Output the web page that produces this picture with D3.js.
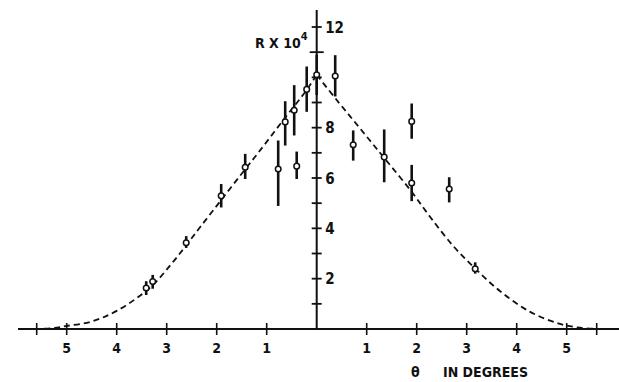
<!DOCTYPE html>
<html>
<head>
<meta charset="utf-8">
<script src="https://cdn.jsdelivr.net/npm/d3@7"></script>
<style>
  body { margin: 0; background: #fff; }
  text { font-family: "Liberation Sans Narrow", "DejaVu Sans Condensed", sans-serif; font-weight: bold; fill: #111; }
</style>
</head>
<body>
<div class="canvas"></div>
<script>
// dashed fit curve (theta in degrees, R x 10^4)
const curveTheta = [-5.65, -5.3, -5.0, -4.5, -4.0, -3.33, -2.9, -2.6, -2.33, -1.9, -1.43, -1.17, -0.63, -0.2, 0,
                    0.4, 0.73, 1.04, 1.37, 1.9, 2.27, 2.73, 3.17, 3.67, 4.27, 4.87, 5.27, 5.65];
const curveR = [0, 0.03, 0.12, 0.3, 0.72, 1.65, 2.6, 3.35, 4.05, 5.15, 6.35, 7.0, 8.4, 9.5, 10.1,
                9.1, 8.3, 7.55, 6.75, 5.45, 4.45, 3.3, 2.4, 1.5, 0.68, 0.2, 0.05, 0];

// measured points with error bars
const ptTheta = [-3.41, -3.28, -2.61, -1.91, -1.43, -0.77, -0.63, -0.45, -0.4, -0.2, 0, 0.37, 0.73, 1.35, 1.9, 1.9, 2.65, 3.17];
const ptR     = [1.63, 1.89, 3.43, 5.29, 6.43, 6.36, 8.23, 8.69, 6.47, 9.52, 10.1, 10.05, 7.32, 6.83, 8.25, 5.8, 5.56, 2.39];
const ptLo    = [1.35, 1.6, 3.22, 4.83, 5.96, 4.89, 7.29, 7.69, 5.96, 8.63, 9.3, 9.24, 6.69, 5.83, 7.56, 5.08, 5.03, 2.2];
const ptHi    = [1.9, 2.15, 3.69, 5.76, 6.96, 7.49, 9.05, 9.69, 7.05, 10.43, 10.9, 10.88, 7.89, 7.93, 8.96, 6.52, 6.03, 2.65];

// ticks
const xTickValues = [-5, -4, -3, -2, -1, 1, 2, 3, 4, 5];
const xMinorTicks = [-5.6, 5.6];
const yTickValues = [1, 2, 3, 4, 5, 6, 7, 8, 9, 10, 11, 12];
const yTickLabels = [2, 4, 6, 8, 12];

const dims = { width: 619, height: 382 };

const svg = d3.select('.canvas')
  .append('svg')
  .attr('width', dims.width)
  .attr('height', dims.height);

const x = d3.scaleLinear().domain([-6, 6]).range([16.7, 616.7]);
const y = d3.scaleLinear().domain([0, 12]).range([329, 27]);

// x axis
svg.append('line')
  .attr('x1', 18).attr('x2', dims.width)
  .attr('y1', y(0)).attr('y2', y(0))
  .attr('stroke', '#111').attr('stroke-width', 1.8);

svg.selectAll('.xtick')
  .data(xTickValues.concat(xMinorTicks))
  .enter().append('line')
    .attr('class', 'xtick')
    .attr('x1', d => x(d)).attr('x2', d => x(d))
    .attr('y1', y(0) - 6).attr('y2', y(0) + 6)
    .attr('stroke', '#111').attr('stroke-width', 1.6);

svg.selectAll('.xlabel')
  .data(xTickValues)
  .enter().append('text')
    .attr('class', 'xlabel')
    .attr('x', d => x(d))
    .attr('y', 352.5)
    .attr('text-anchor', 'middle')
    .attr('font-size', 14)
    .text(d => Math.abs(d));

svg.append('text')
  .attr('x', 411).attr('y', 377)
  .attr('font-size', 14)
  .text('θ');
svg.append('text')
  .attr('x', 443).attr('y', 377)
  .attr('font-size', 14)
  .attr('textLength', 85)
  .text('IN DEGREES');

// y axis
svg.append('line')
  .attr('x1', x(0)).attr('x2', x(0))
  .attr('y1', 10).attr('y2', y(0))
  .attr('stroke', '#111').attr('stroke-width', 2);

svg.selectAll('.ytick')
  .data(yTickValues)
  .enter().append('line')
    .attr('class', 'ytick')
    .attr('x1', d => x(0) - (d === 11 ? 7 : 5))
    .attr('x2', d => x(0) + (d === 11 ? 7 : 5))
    .attr('y1', d => y(d)).attr('y2', d => y(d))
    .attr('stroke', '#111').attr('stroke-width', 1.8);

svg.selectAll('.ylabel')
  .data(yTickLabels)
  .enter().append('text')
    .attr('class', 'ylabel')
    .attr('x', x(0) + 8.5)
    .attr('y', d => y(d) + 5.5)
    .attr('font-size', 15)
    .text(d => d);

const rLabel = svg.append('text')
  .attr('x', 255).attr('y', 48)
  .attr('font-size', 14);
rLabel.append('tspan').text('R X 10');
rLabel.append('tspan').attr('dy', -8).attr('font-size', 11).text('4');

// dashed curve, drawn in two halves so the peak stays sharp
const curveData = curveTheta.map((t, i) => ({ t, r: curveR[i] }));
const line = d3.line()
  .x(d => x(d.t))
  .y(d => y(d.r))
  .curve(d3.curveCatmullRom.alpha(0.5));

[curveData.filter(d => d.t <= 0), curveData.filter(d => d.t >= 0)].forEach(part => {
  svg.append('path')
    .attr('d', line(part))
    .attr('fill', 'none')
    .attr('stroke', '#111')
    .attr('stroke-width', 1.8)
    .attr('stroke-dasharray', '6,4');
});

// points
const points = ptTheta.map((t, i) => ({ t, r: ptR[i], lo: ptLo[i], hi: ptHi[i] }));

svg.selectAll('.err')
  .data(points)
  .enter().append('line')
    .attr('class', 'err')
    .attr('x1', d => x(d.t)).attr('x2', d => x(d.t))
    .attr('y1', d => y(d.hi)).attr('y2', d => y(d.lo))
    .attr('stroke', '#111').attr('stroke-width', 2.6);

svg.selectAll('.pt')
  .data(points)
  .enter().append('circle')
    .attr('class', 'pt')
    .attr('cx', d => x(d.t))
    .attr('cy', d => y(d.r))
    .attr('r', 2.8)
    .attr('fill', '#fff')
    .attr('stroke', '#111')
    .attr('stroke-width', 1.5);
</script>
</body>
</html>
